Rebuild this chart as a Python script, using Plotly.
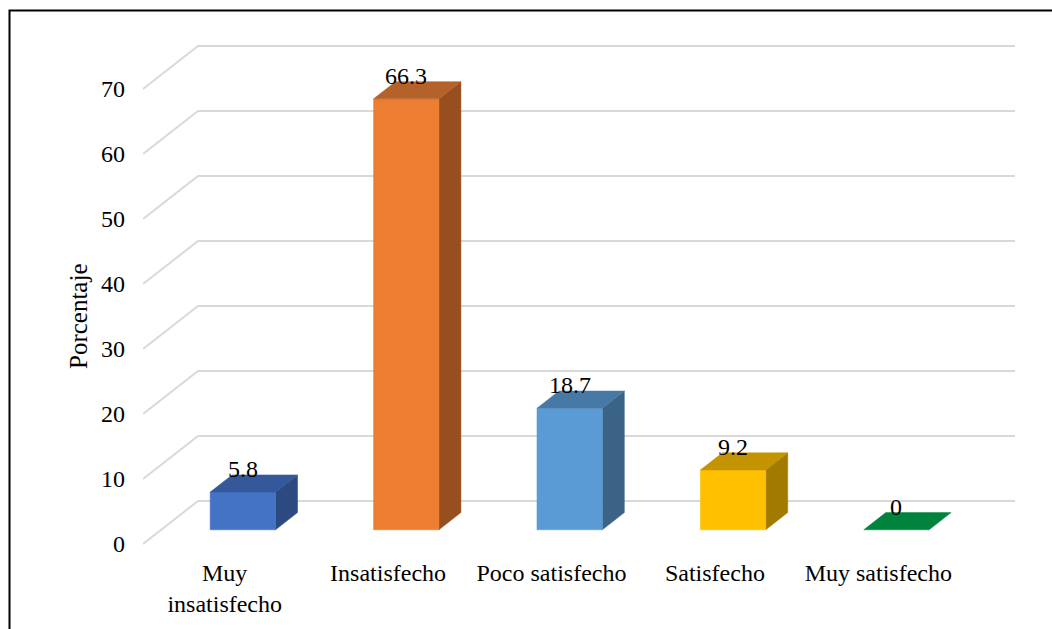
import plotly.graph_objects as go

# ---- data ----
categories = ["Muy<br>insatisfecho", "Insatisfecho", "Poco satisfecho", "Satisfecho", "Muy satisfecho"]
values = [5.8, 66.3, 18.7, 9.2, 0]
value_labels = ["5.8", "66.3", "18.7", "9.2", "0"]
y_ticks = [0, 10, 20, 30, 40, 50, 60, 70]
y_title = "Porcentaje"

front_colors = ["#4472C4", "#ED7D31", "#5B9BD5", "#FFC000", "#00843D"]
top_colors = ["#34589A", "#B5612A", "#4779A6", "#C49300", "#00843D"]
side_colors = ["#2C4A80", "#984F1F", "#3A6386", "#A37A00", "#006E33"]

# ---- 3D projection settings (category / value units) ----
DX = 55 / 163.4        # depth shift in category units for full depth
DY = 43 / 6.5          # depth shift in value units for full depth
D0, D1 = 0.33, 0.73    # bar front/back depth
W = 0.4                # bar width (category units)
X_MIN = -0.5
X_MAX = len(categories) - 0.5 + DX
FONT = "Times New Roman, Liberation Serif, DejaVu Serif, serif"
FS = 24

fig = go.Figure()

# gridlines: side wall diagonals + back wall lines
gx, gy = [], []
for t in y_ticks:
    gx += [X_MIN, X_MIN + DX, X_MAX, None]
    gy += [t, t + DY, t + DY, None]
fig.add_trace(go.Scatter(x=gx, y=gy, mode="lines",
                         line=dict(color="#D9D9D9", width=2),
                         hoverinfo="skip", showlegend=False))

# bars as projected boxes
dd = D1 - D0
for i, v in enumerate(values):
    xl = i - W / 2 + D0 * DX
    xr = i + W / 2 + D0 * DX
    yb = D0 * DY
    yt = v + D0 * DY
    ox, oy = dd * DX, dd * DY
    if v > 0:
        # side face
        fig.add_trace(go.Scatter(
            x=[xr, xr + ox, xr + ox, xr, xr], y=[yb, yb + oy, yt + oy, yt, yb],
            fill="toself", fillcolor=side_colors[i], mode="lines",
            line=dict(color=side_colors[i], width=0.5),
            hoverinfo="skip", showlegend=False))
        # front face
        fig.add_trace(go.Scatter(
            x=[xl, xr, xr, xl, xl], y=[yb, yb, yt, yt, yb],
            fill="toself", fillcolor=front_colors[i], mode="lines",
            line=dict(color=front_colors[i], width=0.5),
            hoverinfo="skip", showlegend=False))
    # top face
    fig.add_trace(go.Scatter(
        x=[xl, xr, xr + ox, xl + ox, xl], y=[yt, yt, yt + oy, yt + oy, yt],
        fill="toself", fillcolor=top_colors[i], mode="lines",
        line=dict(color=top_colors[i], width=0.5),
        hoverinfo="skip", showlegend=False))
    # value label
    fig.add_annotation(x=i + D0 * DX, y=v + D1 * DY, text=value_labels[i],
                       showarrow=False, xanchor="center", yanchor="bottom",
                       yshift=-9, font=dict(family=FONT, size=FS, color="black"))

# layout geometry in pixels
L, R, T, B = 143, 37, 20, 73
PW, PH = 1052 - L - R, 629 - T - B
Y_MIN = -(629 - B - 544) / 6.5
Y_MAX = (544 - T) / 6.5

def px_x(p):
    return (p - L) / PW

def px_y(p):
    return (629 - B - p) / PH

fig.add_annotation(xref="paper", yref="paper", x=px_x(78), y=px_y(316),
                   text=y_title, textangle=-90, showarrow=False,
                   xanchor="center", yanchor="middle",
                   font=dict(family=FONT, size=25, color="black"))

fig.add_shape(type="rect", xref="paper", yref="paper",
              x0=px_x(9.5), x1=px_x(1070), y0=px_y(650), y1=px_y(10.5),
              line=dict(color="black", width=2), fillcolor="rgba(0,0,0,0)",
              layer="above")

fig.update_layout(
    width=1052, height=629,
    margin=dict(l=L, r=R, t=T, b=B, autoexpand=False),
    paper_bgcolor="white", plot_bgcolor="white",
    font=dict(family=FONT, size=FS, color="black"),
    showlegend=False,
    xaxis=dict(range=[X_MIN, X_MAX], tickmode="array",
               tickvals=list(range(len(categories))), ticktext=categories,
               showgrid=False, zeroline=False, showline=False, ticks="",
               ticklabelstandoff=0, fixedrange=True),
    yaxis=dict(range=[Y_MIN, Y_MAX], tickmode="array", tickvals=y_ticks,
               showgrid=False, zeroline=False, showline=False, ticks="",
               ticklabelstandoff=17, fixedrange=True),
)

fig.write_html("out.html")
